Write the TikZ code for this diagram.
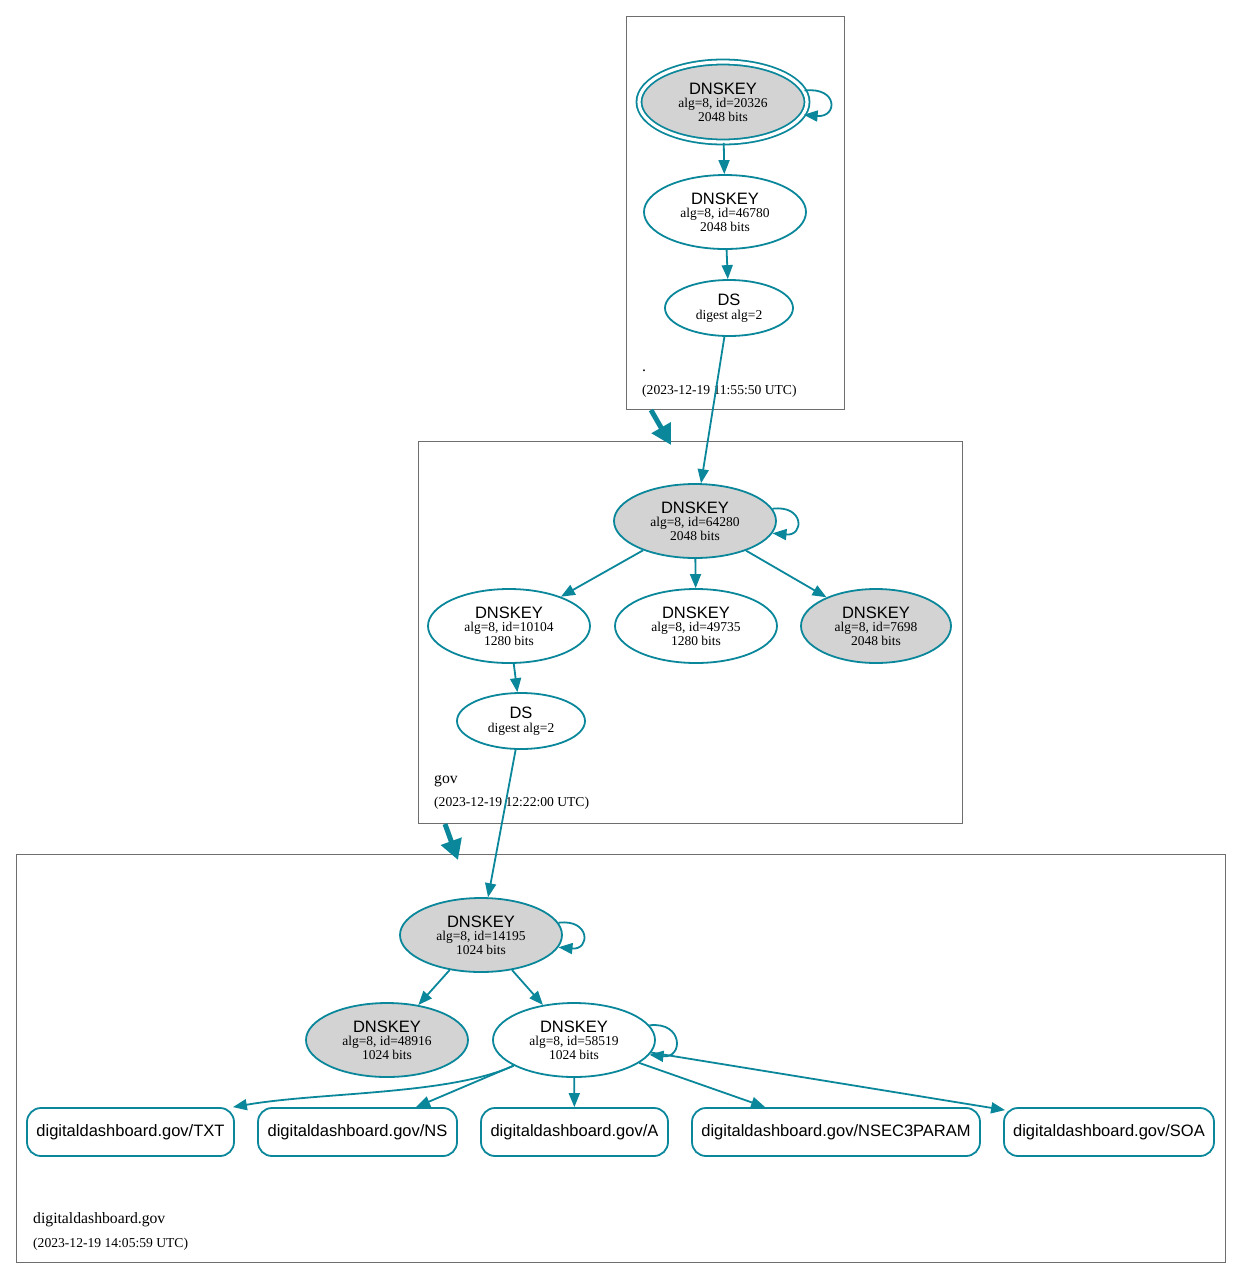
\documentclass[tikz,border=0pt]{standalone}
\usepackage{fontspec}
\setmainfont{Liberation Serif}
\setsansfont{Liberation Sans}
\usetikzlibrary{shapes.geometric,arrows.meta,calc}
\definecolor{edgec}{HTML}{0A879A}
\definecolor{keyfill}{HTML}{D3D3D3}
\definecolor{zonec}{HTML}{6E6E6E}
\begin{document}
\begin{tikzpicture}[x=1pt,y=-1pt,
  key/.style={ellipse, draw=edgec, line width=1.8pt, minimum width=162pt, minimum height=74pt,
    inner sep=0pt, align=center, font=\fontsize{13.5}{13.5}\selectfont},
  ksk/.style={key, fill=keyfill},
  dsnode/.style={key, minimum width=128pt, minimum height=56pt},
  rec/.style={rectangle, rounded corners=14pt, draw=edgec, line width=1.8pt, minimum height=48pt,
    inner sep=0pt, font=\sffamily\fontsize{16.5}{16.5}\selectfont},
  zone/.style={rectangle, draw=zonec, line width=1pt, inner sep=0pt, outer sep=0pt},
  zname/.style={anchor=base west, inner sep=0pt, font=\fontsize{15.7}{15.7}\selectfont},
  zdate/.style={anchor=base west, inner sep=0pt, font=\fontsize{13.6}{13.6}\selectfont},
  edge/.style={draw=edgec, line width=1.8pt, -{Triangle[length=14pt,width=11pt]}},
  deleg/.style={draw=edgec, line width=5pt, -{Triangle[length=20pt,width=21pt]}},
]
\newcommand{\kt}{\sffamily\fontsize{16.5}{16.5}\selectfont}
\useasboundingbox (0,0) rectangle (1241,1278);

% zones
\node[zone, minimum width=218pt, minimum height=393pt] (z1) at (735,212.5) {};
\node[zone, minimum width=544pt, minimum height=382pt] (z2) at (690,632) {};
\node[zone, minimum width=1209pt, minimum height=408pt] (z3) at (620.5,1058) {};

% zone labels
\node[zname] (l1) at (642,371) {.};
\node[zdate] (d1) at (642,394) {(2023-12-19 11:55:50 UTC)};
\node[zname] (l2) at (434,783) {gov};
\node[zdate] (d2) at (434,806) {(2023-12-19 12:22:00 UTC)};
\node[zname] (l3) at (33,1223) {digitaldashboard.gov};
\node[zdate] (d3) at (33,1247) {(2023-12-19 14:05:59 UTC)};

% root zone
\node[ksk, double, double distance=3.2pt, minimum width=168pt, minimum height=80pt] (rk) at (723,102)
  {{\kt DNSKEY}\\alg=8, id=20326\\2048 bits};
\node[key] (rz) at (725,212) {{\kt DNSKEY}\\alg=8, id=46780\\2048 bits};
\node[dsnode] (rds) at (729,308) {{\kt DS}\\digest alg=2};

% gov zone
\node[ksk] (gk) at (695,521) {{\kt DNSKEY}\\alg=8, id=64280\\2048 bits};
\node[key] (g1) at (509,626) {{\kt DNSKEY}\\alg=8, id=10104\\1280 bits};
\node[key] (g2) at (696,626) {{\kt DNSKEY}\\alg=8, id=49735\\1280 bits};
\node[ksk, minimum width=150pt] (g3) at (876,626) {{\kt DNSKEY}\\alg=8, id=7698\\2048 bits};
\node[dsnode] (gds) at (521,721) {{\kt DS}\\digest alg=2};

% digitaldashboard.gov zone
\node[ksk] (dk) at (481,935) {{\kt DNSKEY}\\alg=8, id=14195\\1024 bits};
\node[ksk] (d48) at (387,1040) {{\kt DNSKEY}\\alg=8, id=48916\\1024 bits};
\node[key] (d58) at (574,1040) {{\kt DNSKEY}\\alg=8, id=58519\\1024 bits};

\node[rec, minimum width=207pt] (txt) at (130.5,1132) {digitaldashboard.gov/TXT};
\node[rec, minimum width=199pt] (ns) at (357.5,1132) {digitaldashboard.gov/NS};
\node[rec, minimum width=187pt] (a) at (574.5,1132) {digitaldashboard.gov/A};
\node[rec, minimum width=288pt] (n3) at (836,1132) {digitaldashboard.gov/NSEC3PARAM};
\node[rec, minimum width=210pt] (soa) at (1109,1132) {digitaldashboard.gov/SOA};

% delegation arrows
\coordinate (c1s) at (651,410);
\coordinate (c1e) at (671,445);
\coordinate (c2s) at (445,824);
\coordinate (c2e) at (458,860);
\draw[deleg] (c1s) -- (c1e);
\draw[deleg] (c2s) -- (c2e);

% edges root
\draw[edge] (rk.8) .. controls +(34,-4) and +(34,3) .. (rk.-9);
\draw[edge] (rk) -- (rz);
\draw[edge] (rz) -- (rds);
\draw[edge] (rds) -- (gk);

% edges gov
\draw[edge] (gk.9) .. controls +(32,-4) and +(32,3) .. (gk.-9);
\draw[edge] (gk) -- (g1);
\draw[edge] (gk) -- (g2);
\draw[edge] (gk) -- (g3);
\draw[edge] (g1) -- (gds);
\draw[edge] (gds) -- (dk);

% edges digitaldashboard.gov
\draw[edge] (dk.9) .. controls +(32,-4) and +(32,3) .. (dk.-9);
\draw[edge] (dk) -- (d48);
\draw[edge] (dk) -- (d58);
\draw[edge] (d58.11) .. controls +(34,-4) and +(34,4) .. (d58.-11);
\draw[edge] (d58.203) .. controls (450,1095) and (320,1092) .. ([xshift=-2pt]txt.north east);
\draw[edge] (d58) -- (ns);
\draw[edge] (d58) -- (a);
\draw[edge] (d58) -- (n3);
\draw[edge] (d58) -- ([xshift=2pt,yshift=-3pt]soa.north west);
\end{tikzpicture}
\end{document}
